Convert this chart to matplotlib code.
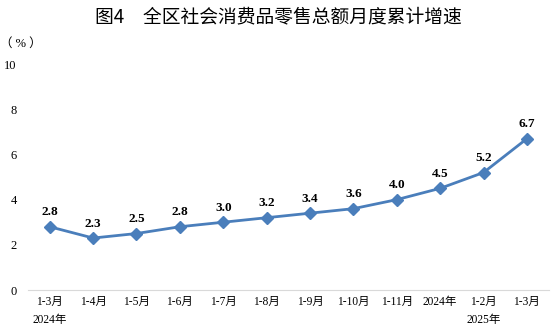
import matplotlib.pyplot as plt

plt.rcParams['font.family'] = ['Liberation Serif', 'Noto Sans CJK SC']

months = ['1-3月\n2024年', '1-4月', '1-5月', '1-6月', '1-7月', '1-8月', '1-9月',
          '1-10月', '1-11月', '2024年', '1-2月\n2025年', '1-3月']
growth = [2.8, 2.3, 2.5, 2.8, 3.0, 3.2, 3.4, 3.6, 4.0, 4.5, 5.2, 6.7]
yticks = [0, 2, 4, 6, 8, 10]

fig = plt.figure(figsize=(5.57, 3.32), dpi=100)
ax = fig.add_axes([0.0503, 0.1265, 0.9347, 0.6805])

x = list(range(len(months)))
ax.plot(x, growth, color='#4a7ebb', linewidth=2.0, marker='D', markersize=6,
        markerfacecolor='#4a7ebb', markeredgecolor='#4a7ebb')

for xi, v in zip(x, growth):
    ax.annotate(f'{v:.1f}', (xi, v), xytext=(0, 6), textcoords='offset points',
                ha='center', va='bottom', fontsize=9.5, fontweight='bold')

ax.set_xlim(-0.5, len(months) - 0.5)
ax.set_ylim(0, 10)
ax.set_yticks(yticks)
ax.set_yticklabels([str(t) for t in yticks], fontsize=9)
ax.set_xticks(x)
ax.set_xticklabels(months, fontsize=8.3, linespacing=1.75)
ax.tick_params(axis='both', length=0)
ax.tick_params(axis='y', pad=8)
ax.tick_params(axis='x', pad=4)

for s in ['top', 'right', 'left']:
    ax.spines[s].set_visible(False)
ax.spines['bottom'].set_color('#d9d9d9')

fig.text(0.038, 0.868, '（ % ）', fontsize=9, ha='center', va='center')
fig.text(0.5, 0.95, '图4　全区社会消费品零售总额月度累计增速', fontsize=13.5,
         ha='center', va='center', family=['Noto Sans CJK SC'], fontweight='medium')

fig.savefig('out.png', dpi=100)
